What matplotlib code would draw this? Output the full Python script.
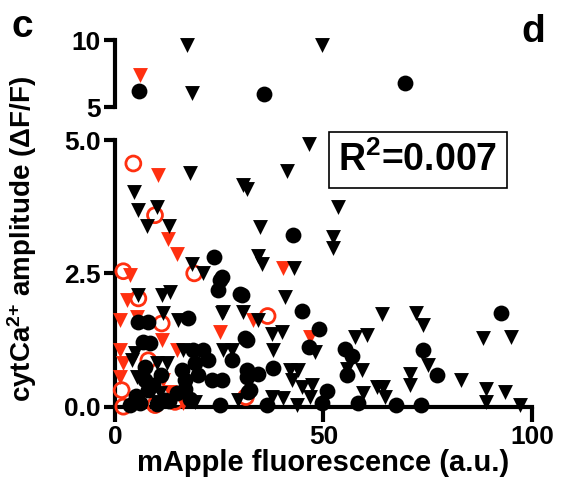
import numpy as np
import matplotlib
matplotlib.use("Agg")
import matplotlib.pyplot as plt

plt.rcParams['font.family'] = ['Liberation Sans', 'DejaVu Sans']
plt.rcParams['font.weight'] = 'bold'
plt.rcParams['mathtext.fontset'] = 'custom'
plt.rcParams['mathtext.rm'] = 'Liberation Sans:bold'
plt.rcParams['mathtext.bf'] = 'Liberation Sans:bold'
plt.rcParams['mathtext.it'] = 'Liberation Sans:bold'

RED = '#ff3010'

# data (x = mApple fluorescence, y = dF/F)
black_circle_x = [5.8, 35.7, 69.5,
                  23.8, 25.6, 42.6, 30.4, 44.9, 48.9, 46.6, 31.6, 55.2, 56.8, 55.6, 38.0, 50.9,
                  49.6, 58.3, 36.4, 31.6, 31.6, 34.4, 32.0, 92.7, 73.8, 77.3, 67.5, 73.5, 5.6,
                  8.0, 17.6, 24.8, 25.2, 6.8, 8.4, 18.8, 21.2, 22.4, 19.2, 28.0, 7.2, 16.0, 16.8,
                  7.2, 23.2, 25.6, 8.0, 14.8, 16.8, 3.6, 6.0, 12.0, 25.2, 30.0, 31.2, 32.4,
                  9.0, 11.0, 13.0, 5.0, 18.0, 20.0, 10.0]
black_circle_y = [6.19, 5.95, 6.77,
                  2.81, 2.43, 3.22, 2.09, 1.80, 1.45, 1.11, 1.25, 1.09, 0.95, 0.59, 0.72, 0.30,
                  0.07, 0.07, 0.03, 0.56, 0.69, 0.62, 0.28, 1.75, 1.06, 0.59, 0.03, 0.03, 1.59,
                  1.59, 1.66, 2.19, 2.37, 1.22, 1.19, 1.06, 1.06, 0.87, 0.81, 0.87, 0.75, 0.69, 0.50,
                  0.50, 0.50, 0.50, 0.31, 0.25, 0.34, 0.03, 0.06, 0.12, 0.03, 2.12, 1.28, 0.31,
                  0.40, 0.60, 0.10, 0.20, 0.15, 0.60, 0.05]

black_tri_x = [17.2, 49.6, 18.4,
               18.0, 30.8, 4.6, 5.6, 10.0, 7.6, 12.9, 18.5, 21.2, 46.6, 41.2, 31.6, 53.5, 34.8,
               52.4, 52.2, 34.4, 35.2, 42.9, 40.8, 30.8, 34.4, 64.0, 48.0, 37.6, 40.0, 38.0,
               57.6, 60.4, 55.6, 59.2, 42.0, 44.0, 42.4, 44.8, 47.2, 46.8, 59.5, 62.8, 64.7,
               37.6, 40.4, 43.6, 72.3, 73.9, 88.3, 95.1, 75.1, 70.7, 70.7, 83.1, 89.1, 93.5,
               89.0, 97.1, 64.3, 5.6, 11.2, 13.2, 11.6, 15.2, 25.6, 4.8, 16.4, 26.0, 4.0, 10.0,
               12.4, 5.2, 10.8, 10.0, 19.2, 29.6, 26.0, 28.0]
black_tri_y = [9.63, 9.63, 6.07,
               4.39, 4.15, 4.03, 3.68, 3.75, 3.38, 3.38, 2.67, 2.50, 4.93, 4.42, 4.09, 3.75, 3.37,
               3.18, 2.98, 2.82, 2.67, 2.60, 2.06, 1.78, 1.62, 1.74, 1.03, 1.37, 1.40, 1.06,
               1.31, 1.34, 0.70, 0.69, 0.69, 0.69, 0.50, 0.37, 0.41, 0.19, 0.25, 0.37, 0.19,
               0.19, 0.16, 0.03, 1.75, 1.53, 1.28, 1.31, 0.78, 0.61, 0.41, 0.50, 0.34, 0.28,
               0.09, 0.03, 0.37, 2.09, 2.09, 2.15, 1.75, 1.62, 1.75, 1.00, 1.06, 1.06, 0.87, 0.81,
               0.81, 0.56, 0.25, 0.09, 0.09, 0.12, 1.78, 1.06]

red_tri_x = [6.0, 10.2, 12.6, 14.8, 3.6, 40.2, 33.2, 46.8, 2.8, 1.2, 5.2, 11.2, 1.2, 14.8,
             25.2, 2.0, 1.2, 11.6, 13.2, 16.4]
red_tri_y = [7.39, 4.34, 3.15, 2.86, 2.47, 2.60, 1.62, 1.31, 2.00, 1.62, 1.69, 1.25, 1.06, 1.06,
             1.40, 0.81, 0.56, 0.50, 0.28, 0.06]

red_circle_x = [4.4, 9.6, 19.0, 2.0, 5.6, 36.6, 11.2, 8.0, 1.6, 2.0, 9.6, 14.4, 31.4]
red_circle_y = [4.56, 3.59, 2.50, 2.54, 2.03, 1.70, 1.56, 0.87, 0.31, 0.00, 0.03, 0.09, 0.18]

fig = plt.figure(figsize=(5.61, 4.92), dpi=100)
ax_top = fig.add_axes([0.205, 0.7825, 0.743, 0.136])
ax = fig.add_axes([0.205, 0.1734, 0.743, 0.542])

series = [
    (red_tri_x, red_tri_y, dict(marker='v', color=RED, s=115, linewidths=0)),
    (red_circle_x, red_circle_y, dict(marker='o', facecolors='none', edgecolors=RED, s=115, linewidths=2)),
    (black_circle_x, black_circle_y, dict(marker='o', color='black', s=130, linewidths=0)),
    (black_tri_x, black_tri_y, dict(marker='v', color='black', s=115, linewidths=0)),
]
for i, (xs, ys, kw) in enumerate(series):
    xs = np.array(xs)
    ys = np.array(ys)
    low = ys <= 5
    ax.scatter(xs[low], ys[low], clip_on=False, zorder=3 + i, **kw)
    if (~low).any():
        ax_top.scatter(xs[~low], ys[~low], clip_on=False, zorder=3 + i, **kw)

lw = 3
for a in (ax, ax_top):
    a.set_xlim(0, 100)
    for s in ('top', 'right'):
        a.spines[s].set_visible(False)
    a.spines['left'].set_linewidth(lw)
    a.spines['bottom'].set_linewidth(lw)
    a.tick_params(width=lw, length=8, labelsize=19, direction='out', pad=2)

ax.set_ylim(0, 5)
ax.set_yticks([0, 2.5, 5.0])
ax.set_yticklabels(['0.0', '2.5', '5.0'], fontweight='bold')
ax.set_xticks([0, 50, 100])
ax.set_xticklabels(['0', '50', '100'], fontweight='bold')
ax.tick_params(axis='x', length=11)
ax.set_xlabel('mApple fluorescence (a.u.)', fontsize=21, fontweight='bold', labelpad=0)

ax_top.set_ylim(5, 10)
ax_top.set_yticks([5, 10])
ax_top.set_yticklabels(['5', '10'], fontweight='bold')
ax_top.spines['bottom'].set_visible(False)
ax_top.set_xticks([])

fig.text(0.04, 0.515, r'cytCa$^{2{+}}$ amplitude ($\Delta$F/F)', rotation=90,
         ha='center', va='center', fontsize=20, fontweight='bold')

ax.text(0.535, 0.925, r'R$^2$=0.007', transform=ax.transAxes, fontsize=27, fontweight='bold',
        va='center', ha='left', zorder=10,
        bbox=dict(boxstyle='square,pad=0.25', facecolor='white', edgecolor='black', linewidth=1.2))

fig.text(0.02, 0.945, 'c', fontsize=28, fontweight='bold', va='center')
fig.text(0.93, 0.935, 'd', fontsize=28, fontweight='bold', va='center')

fig.savefig('out.png', dpi=100)
